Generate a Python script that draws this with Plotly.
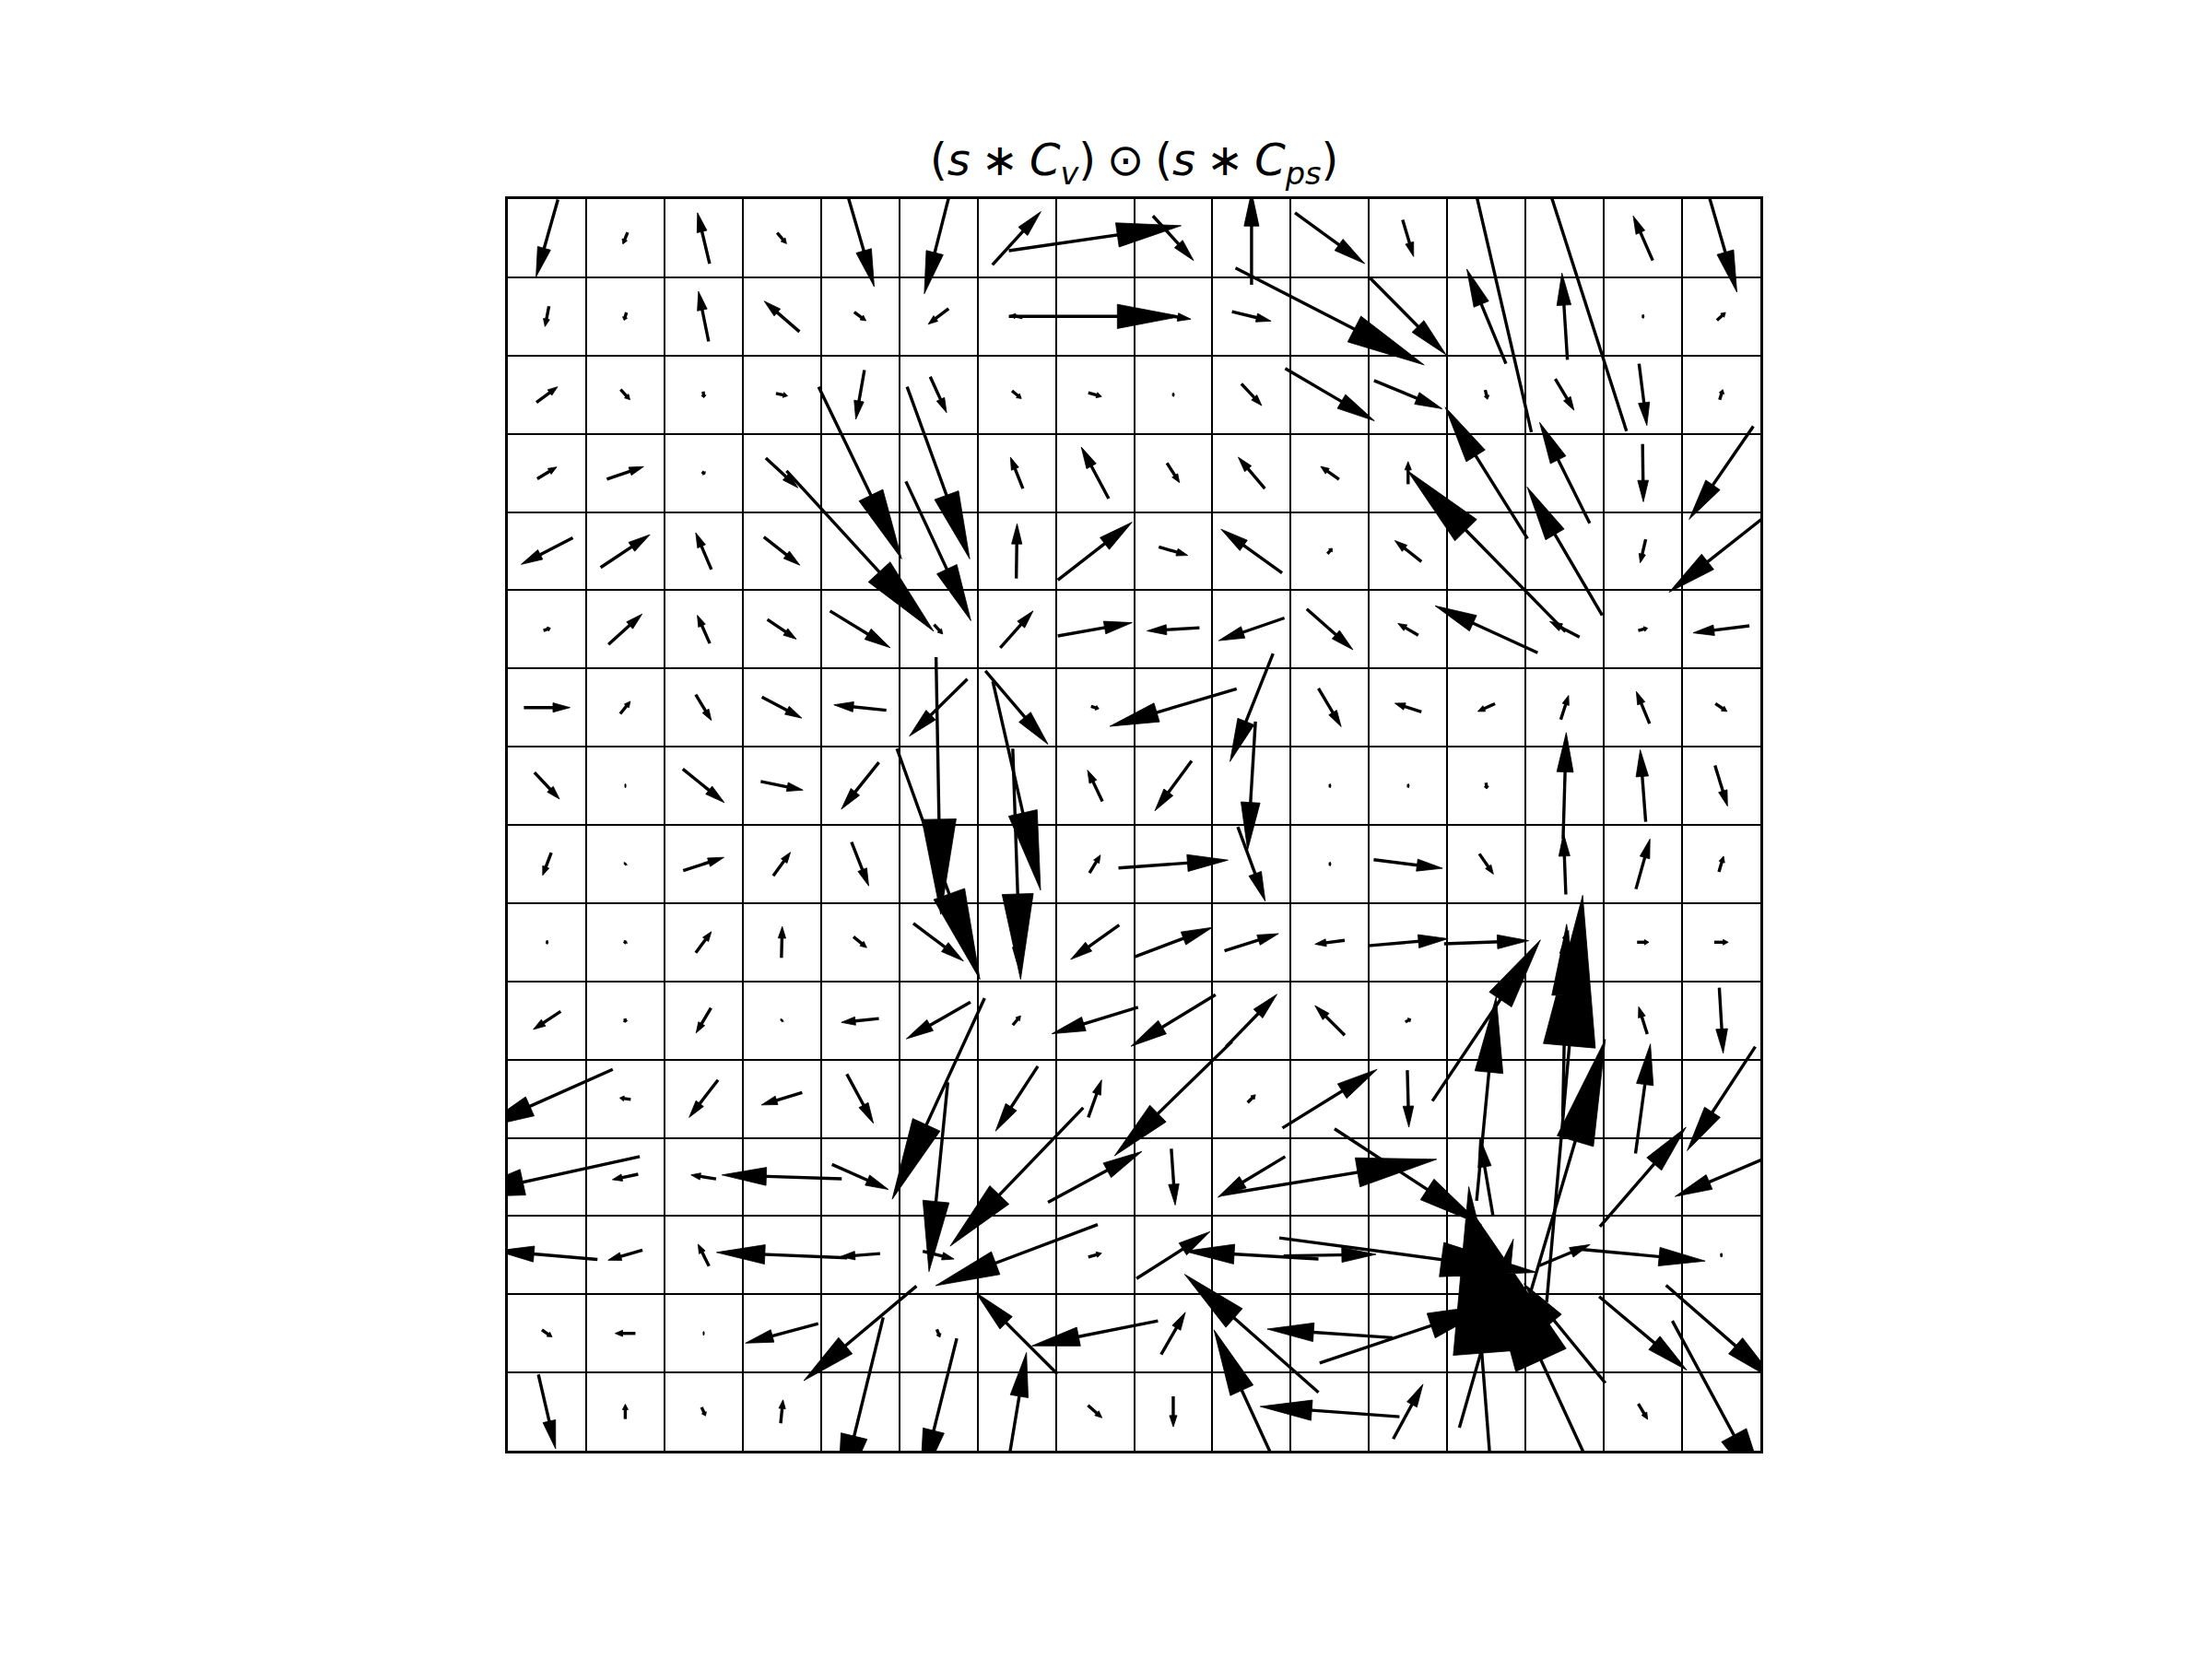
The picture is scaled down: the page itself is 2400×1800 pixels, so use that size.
import math
import plotly.graph_objects as go

# Quiver field on a 16 x 16 grid. Rows listed top -> bottom, columns left -> right.
# U: horizontal component (cells), V: vertical component (cells, up positive)
U = [
    [-0.28, -0.06, -0.155, 0.12, 0.36, -0.36, 0.62, 2.2, 0.52, 0.0, 0.89, 0.14, -1.15, -1.58, -0.25, 0.4],
    [-0.05, -0.03, -0.13, -0.45, 0.15, -0.26, -0.15, 2.2, 0.45, 0.5, 2.41, 0.97, -0.5, -0.07, 0.03, 0.11],
    [0.27, 0.12, 0.01, 0.15, -0.11, 0.21, 0.12, 0.17, 0.03, 0.26, 1.14, 0.87, 0.03, 0.24, 0.1, 0.04],
    [0.25, 0.47, 0.04, 0.41, 1.06, 0.8, -0.16, -0.35, 0.16, -0.34, -0.235, 0.0, -1.05, -0.64, 0.01, -0.82],
    [-0.66, 0.63, -0.2, 0.46, 1.88, 0.83, 0.01, 0.95, 0.37, -0.78, 0.06, -0.34, -2.02, -0.96, -0.07, -1.33],
    [0.09, 0.43, -0.16, 0.37, 0.77, 0.11, 0.42, 0.95, -0.67, -0.84, 0.59, -0.26, -1.31, -0.38, 0.12, -0.72],
    [0.59, 0.13, 0.2, 0.51, -0.67, -0.74, 0.8, 0.1, -1.62, -0.55, 0.29, -0.34, -0.22, 0.1, -0.17, 0.15],
    [0.32, 0.02, 0.53, 0.54, -0.48, 0.06, 0.61, -0.19, -0.47, -0.1, 0.03, 0.03, 0.01, 0.04, -0.07, 0.16],
    [-0.11, 0.02, 0.52, 0.22, 0.22, 1.06, 0.1, 0.14, 1.4, 0.35, 0.03, 0.88, 0.18, -0.03, 0.18, 0.06],
    [0.03, 0.03, 0.2, 0.01, 0.17, 0.64, 0.0, -0.62, 1.0, 0.69, -0.38, 1.02, 1.08, 0.1, 0.15, 0.18],
    [-0.35, 0.01, -0.19, 0.02, -0.48, -0.82, 0.1, -1.1, -1.08, 0.65, -0.38, 0.07, 1.38, 0.05, -0.11, 0.05],
    [-1.68, -0.14, -0.37, -0.52, 0.34, -1.18, -0.54, 0.17, -1.5, 0.1, 1.21, 0.02, 0.25, 0.46, 0.19, -0.87],
    [-2.37, -0.33, -0.32, -1.53, 0.72, -0.24, -1.7, 1.2, 0.05, -0.86, 2.73, 1.88, -0.17, 1.04, 1.1, -1.18],
    [-1.29, -0.44, -0.14, -1.67, -0.51, 0.4, -2.07, 0.17, 0.94, -1.71, 1.18, 3.29, 0.3, 0.65, 1.59, 0.03],
    [0.13, -0.26, 0.02, -0.93, -1.44, 0.04, -1.04, -1.61, 0.31, -1.71, -1.6, 2.26, 0.69, -1.04, 1.12, 1.41],
    [0.22, 0.0, 0.05, 0.03, -0.59, -0.47, 0.25, 0.18, 0.0, -0.96, -1.78, 0.38, -0.45, -2.33, 0.12, 1.25],
]
V = [
    [-0.99, -0.15, 0.65, -0.14, -1.24, -1.42, 0.68, 0.32, -0.57, 1.19, -0.65, -0.47, 4.96, 4.93, 0.57, -1.38],
    [-0.26, -0.1, 0.64, 0.39, -0.11, -0.2, 0.03, 0.0, -0.07, -0.12, -1.24, -0.98, 1.21, 1.11, 0.0, 0.1],
    [0.2, -0.13, -0.08, -0.03, -0.63, -0.46, -0.1, -0.05, 0.0, -0.28, -0.67, -0.36, -0.12, -0.4, -0.79, 0.13],
    [0.15, 0.16, -0.03, -0.38, -2.2, -2.2, 0.4, 0.66, -0.25, 0.4, 0.165, 0.29, 1.68, 1.29, -0.74, -1.19],
    [-0.34, 0.42, 0.47, -0.36, -2.05, -1.78, 0.7, 0.74, -0.11, 0.56, 0.07, 0.27, 2.06, 1.64, -0.3, -1.05],
    [0.03, 0.39, 0.36, -0.25, -0.47, -0.12, 0.47, 0.17, -0.04, -0.29, -0.52, 0.15, 0.6, 0.2, 0.03, -0.09],
    [0.0, 0.16, -0.33, -0.27, 0.07, -0.73, -0.94, -0.03, -0.48, -1.38, -0.49, 0.11, -0.1, 0.31, 0.41, -0.1],
    [-0.34, 0.0, -0.43, -0.11, -0.6, -3.29, -2.67, 0.4, -0.64, -1.64, 0.0, 0.0, -0.08, 1.36, 0.92, -0.52],
    [-0.29, 0.02, 0.17, 0.3, -0.56, -2.95, -2.95, 0.23, 0.1, -0.95, 0.0, -0.11, -0.26, 0.78, 0.64, 0.2],
    [0.0, 0.03, 0.27, 0.4, -0.14, -0.48, -0.5, -0.44, 0.38, 0.22, -0.05, 0.09, 0.04, 0.3, 0.0, 0.0],
    [-0.23, -0.05, -0.32, 0.02, -0.05, -0.47, 0.12, -0.34, -0.66, 0.67, 0.38, 0.04, 2.06, 2.46, 0.35, -0.84],
    [-0.75, 0.02, -0.48, -0.16, -0.63, -2.57, -0.83, 0.48, -1.46, 0.1, 0.75, -0.73, 2.61, 5.2, 1.4, -1.33],
    [-0.52, -0.07, 0.05, 0.05, -0.32, -2.42, -1.77, 0.65, -0.72, -0.52, 0.45, -1.23, 1.0, 3.52, 1.27, -0.5],
    [0.11, -0.13, 0.28, 0.07, -0.04, -0.1, -0.78, 0.05, 0.6, 0.1, 0.02, -0.44, -0.3, 0.27, -0.15, 0.0],
    [-0.09, 0.0, 0.0, -0.25, -1.21, -0.1, 1.04, -0.32, 0.54, 1.51, 0.11, 0.76, 2.41, 1.27, -0.94, -1.23],
    [-0.95, 0.19, -0.11, 0.3, -2.41, -1.87, 1.51, -0.16, -0.39, 2.09, 0.13, 0.7, 5.75, 5.06, -0.2, -2.32],
]

N = 16
SP = "\u2005"
TITLE = ("(<i>s</i>" + SP + "\u2217" + SP + "<i>C</i><sub><i>v</i></sub>)" + SP + "\u2299" + SP +
         "(<i>s</i>" + SP + "\u2217" + SP + "<i>C</i><sub><i>ps</i></sub>)")

shaft_x, shaft_y = [], []
head_x, head_y = [], []
for r in range(N):
    for c in range(N):
        u, v = U[r][c], V[r][c]
        L = math.hypot(u, v)
        if L == 0:
            continue
        cx, cy = c + 0.5, (N - 1 - r) + 0.5
        ex, ey = u / L, v / L
        px, py = -ey, ex
        tx, ty = cx - u / 2, cy - v / 2
        hx, hy = cx + u / 2, cy + v / 2
        hl = 0.37 * L
        hw = 0.118 * L + 0.05
        bx, by = hx - hl * ex, hy - hl * ey
        shaft_x += [tx, bx + 0.3 * hl * ex, None]
        shaft_y += [ty, by + 0.3 * hl * ey, None]
        head_x += [bx + px * hw / 2, hx, bx - px * hw / 2, bx + px * hw / 2, None]
        head_y += [by + py * hw / 2, hy, by - py * hw / 2, by + py * hw / 2, None]

fig = go.Figure()
fig.add_trace(go.Scatter(x=shaft_x, y=shaft_y, mode="lines",
                         line=dict(color="black", width=3.4), hoverinfo="skip",
                         showlegend=False))
fig.add_trace(go.Scatter(x=head_x, y=head_y, mode="lines", fill="toself",
                         fillcolor="black", line=dict(color="black", width=0.8),
                         hoverinfo="skip", showlegend=False))

axis_common = dict(range=[0, N], tick0=0, dtick=1, showgrid=True, gridcolor="black",
                   gridwidth=2, showticklabels=False, ticks="", zeroline=False,
                   showline=True, mirror=True, linecolor="black", linewidth=2.5)
fig.update_layout(
    width=2400, height=1800,
    margin=dict(l=551, r=490, t=216, b=226),
    paper_bgcolor="white", plot_bgcolor="white",
    xaxis=axis_common,
    yaxis=axis_common,
    annotations=[dict(text=TITLE, x=0.5, y=1, xref="paper", yref="paper",
                      xanchor="center", yanchor="bottom", yshift=6, showarrow=False,
                      font=dict(family="DejaVu Sans", size=48, color="black"))],
)
fig.write_html("out.html")
